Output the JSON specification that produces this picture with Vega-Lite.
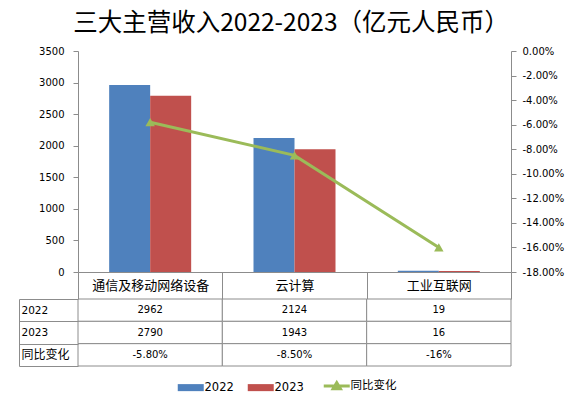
{
  "$schema": "https://vega.github.io/schema/vega-lite/v6.json",
  "background": "white",
  "padding": {"left": 18, "top": 10, "right": 5, "bottom": 5},
  "title": {
    "text": "三大主营收入2022-2023（亿元人民币）",
    "font": "Noto Sans CJK SC",
    "fontSize": 24.5,
    "fontWeight": "normal",
    "color": "black",
    "anchor": "middle",
    "offset": 10
  },
  "datasets": {
    "rev": [
      {"cat": "通信及移动网络设备", "year": "2022", "value": 2962},
      {"cat": "通信及移动网络设备", "year": "2023", "value": 2790},
      {"cat": "云计算", "year": "2022", "value": 2124},
      {"cat": "云计算", "year": "2023", "value": 1943},
      {"cat": "工业互联网", "year": "2022", "value": 19},
      {"cat": "工业互联网", "year": "2023", "value": 16}
    ],
    "yoy": [
      {"cat": "通信及移动网络设备", "yoy": -0.058},
      {"cat": "云计算", "yoy": -0.085},
      {"cat": "工业互联网", "yoy": -0.16}
    ],
    "tbl": [
      {"cat": "通信及移动网络设备", "row": "2022", "val": "2962"},
      {"cat": "云计算", "row": "2022", "val": "2124"},
      {"cat": "工业互联网", "row": "2022", "val": "19"},
      {"cat": "通信及移动网络设备", "row": "2023", "val": "2790"},
      {"cat": "云计算", "row": "2023", "val": "1943"},
      {"cat": "工业互联网", "row": "2023", "val": "16"},
      {"cat": "通信及移动网络设备", "row": "同比变化", "val": "-5.80%"},
      {"cat": "云计算", "row": "同比变化", "val": "-8.50%"},
      {"cat": "工业互联网", "row": "同比变化", "val": "-16%"}
    ]
  },
  "bounds": "flush",
  "spacing": 27,
  "vconcat": [
    {
      "width": 433,
      "height": 221,
      "layer": [
        {
          "data": {"name": "rev"},
          "mark": {"type": "bar"},
          "encoding": {
            "x": {
              "field": "cat", "type": "nominal",
              "sort": ["通信及移动网络设备", "云计算", "工业互联网"],
              "scale": {"paddingInner": 0, "paddingOuter": 0},
              "axis": {
                "orient": "bottom", "title": null, "labelAngle": 0,
                "tickBand": "extent", "tickSize": 27,
                "labelPadding": -14, "labelBaseline": "middle",
                "labelFont": "Noto Sans CJK SC", "labelFontSize": 13,
                "labelColor": "black", "tickColor": "#8C8C8C", "domainColor": "#8C8C8C"
              }
            },
            "xOffset": {
              "field": "year", "type": "nominal",
              "scale": {"paddingInner": 0, "paddingOuter": 0.76}
            },
            "y": {
              "field": "value", "type": "quantitative",
              "scale": {"domain": [0, 3500], "nice": false},
              "axis": {
                "title": null, "grid": false, "format": "d",
                "values": [0, 500, 1000, 1500, 2000, 2500, 3000, 3500],
                "tickSize": 5, "labelPadding": 9,
                "labelFont": "DejaVu Sans", "labelFontSize": 10, "labelColor": "black",
                "tickColor": "#8C8C8C", "domainColor": "#8C8C8C"
              }
            },
            "color": {
              "field": "year", "type": "nominal",
              "scale": {
                "domain": ["2022", "2023", "同比变化"],
                "range": ["#4F81BD", "#C0504D", "#9BBB59"]
              },
              "legend": {
                "orient": "none", "legendX": 107, "legendY": 329,
                "direction": "horizontal", "title": null,
                "labelFont": "DejaVu Sans, Noto Sans CJK SC", "labelFontSize": 11.5, "labelColor": "black",
                "symbolType": "M-1,-0.27H1V0.27H-1Z",
                "symbolSize": 676, "labelOffset": 8, "columnPadding": 13,
                "encode": {
                  "symbols": {
                    "update": {
                      "shape": {"signal": "datum.label === '同比变化' ? 'M-1,0H1M-0.28,0.22L0,-0.25L0.28,0.22Z' : 'M-1,-0.27H1V0.27H-1Z'"},
                      "fill": {"signal": "scale('color', datum.value)"},
                      "stroke": {"signal": "datum.label === '同比变化' ? '#9BBB59' : 'transparent'"},
                      "strokeWidth": {"signal": "datum.label === '同比变化' ? 3 : 0"},
                      "opacity": {"value": 1}
                    }
                  }
                }
              }
            }
          }
        },
        {
          "data": {"name": "yoy"},
          "mark": {
            "type": "line", "strokeWidth": 3,
            "point": {"shape": "triangle-up", "size": 90, "filled": true}
          },
          "encoding": {
            "x": {
              "field": "cat", "type": "nominal",
              "sort": ["通信及移动网络设备", "云计算", "工业互联网"]
            },
            "y": {
              "field": "yoy", "type": "quantitative",
              "scale": {"domain": [-0.18, 0], "nice": false},
              "axis": {
                "orient": "right", "title": null, "grid": false,
                "values": [0, -0.02, -0.04, -0.06, -0.08, -0.1, -0.12, -0.14, -0.16, -0.18],
                "labelExpr": "replace(format(datum.value, '.2%'), '\u2212', '-')",
                "tickSize": 5, "labelPadding": 6,
                "labelFont": "DejaVu Sans", "labelFontSize": 10, "labelColor": "black",
                "tickColor": "#8C8C8C", "domainColor": "#8C8C8C"
              }
            },
            "color": {"datum": "同比变化", "type": "nominal"}
          }
        }
      ],
      "resolve": {"scale": {"y": "independent"}}
    },
    {
      "width": 433,
      "height": 67,
      "data": {"name": "tbl"},
      "encoding": {
        "x": {
          "field": "cat", "type": "nominal",
          "sort": ["通信及移动网络设备", "云计算", "工业互联网"],
          "scale": {"paddingInner": 0, "paddingOuter": 0},
          "axis": null
        },
        "y": {
          "field": "row", "type": "nominal",
          "sort": ["2022", "2023", "同比变化"],
          "scale": {"paddingInner": 0, "paddingOuter": 0},
          "axis": {
            "title": null, "orient": "left", "offset": 59, "tickSize": -59,
            "tickBand": "extent", "labelAlign": "left", "labelPadding": 57,
            "labelFont": "DejaVu Sans, Noto Sans CJK SC",
            "labelFontSize": {"condition": {"test": "datum.label === '同比变化'", "value": 12}, "value": 10.5},
            "labelColor": "black",
            "tickColor": "#8C8C8C", "domainColor": "#8C8C8C"
          }
        }
      },
      "layer": [
        {"mark": {"type": "rect", "fill": "white", "stroke": "#8C8C8C", "strokeWidth": 1}},
        {
          "mark": {"type": "text", "font": "DejaVu Sans", "fontSize": 10, "color": "black"},
          "encoding": {"text": {"field": "val"}}
        }
      ]
    }
  ],
  "config": {
    "view": {"stroke": null}
  }
}
